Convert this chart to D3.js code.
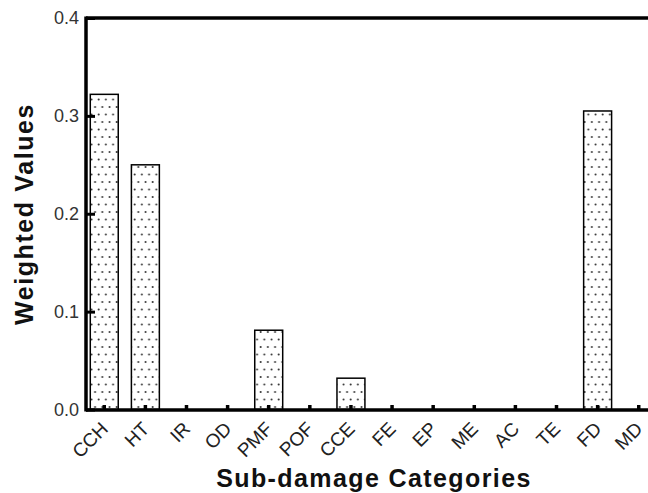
<!DOCTYPE html>
<html>
<head>
<meta charset="utf-8">
<script src="https://cdn.jsdelivr.net/npm/d3@7"></script>
<style>
  body { margin: 0; background: #fff; }
  svg { display: block; }
</style>
</head>
<body>
<svg id="chart"></svg>
<script>
// data
var categories = ["CCH", "HT", "IR", "OD", "PMF", "POF", "CCE", "FE", "EP", "ME", "AC", "TE", "FD", "MD"]
var weights = [0.322, 0.25, 0, 0, 0.081, 0, 0.032, 0, 0, 0, 0, 0, 0.305, 0]
var yTicks = [0.0, 0.1, 0.2, 0.3, 0.4]

var width = 648, height = 493
var plotLeft = 86, plotTop = 18, plotBottom = 410

var svg = d3.select("#chart")
    .attr("width", width)
    .attr("height", height)

// dotted fill for the bars
var defs = svg.append("defs")
var pat = defs.append("pattern")
    .attr("id", "dots")
    .attr("patternUnits", "userSpaceOnUse")
    .attr("width", 7.2)
    .attr("height", 15)
pat.append("rect").attr("width", 7.2).attr("height", 15).attr("fill", "#fff")
pat.append("circle").attr("cx", 1.5).attr("cy", 2).attr("r", 1).attr("fill", "#333")
pat.append("circle").attr("cx", 5.1).attr("cy", 9.5).attr("r", 1).attr("fill", "#333")

var x = d3.scaleBand()
    .domain(categories)
    .range([plotLeft + 1, 656])
    .paddingInner(0.32)
    .paddingOuter(0.08)

var y = d3.scaleLinear()
    .domain([0, 0.4])
    .range([plotBottom - 0.5, plotTop])

// bars
svg.selectAll("rect.bar")
    .data(categories)
  .enter()
    .append("rect")
    .attr("class", "bar")
    .attr("x", function(d) { return x(d) })
    .attr("width", x.bandwidth())
    .attr("y", function(d, i) { return y(weights[i]) })
    .attr("height", function(d, i) { return y(0) - y(weights[i]) })
    .attr("fill", "url(#dots)")
    .attr("stroke", "#000")
    .attr("stroke-width", 1.5)
    .style("display", function(d, i) { return weights[i] > 0 ? null : "none" })

// y axis
var yAxis = svg.append("g")
    .attr("transform", "translate(" + plotLeft + ",0)")
    .call(d3.axisRight(y).tickValues(yTicks).tickSize(9).tickFormat(d3.format(".1f")))
yAxis.select(".domain").remove()
yAxis.selectAll(".tick line").attr("stroke", "#000").attr("stroke-width", 3)
yAxis.selectAll(".tick text")
    .attr("x", -7)
    .attr("text-anchor", "end")
    .attr("fill", "#333")
    .style("font-family", "Liberation Sans, Arial, sans-serif")
    .style("font-size", "18px")

svg.append("line")
    .attr("x1", plotLeft).attr("x2", plotLeft)
    .attr("y1", plotTop - 1.5).attr("y2", plotBottom + 1.5)
    .attr("stroke", "#000").attr("stroke-width", 3.5)

// top frame line
svg.append("line")
    .attr("x1", plotLeft).attr("x2", width)
    .attr("y1", plotTop).attr("y2", plotTop)
    .attr("stroke", "#000").attr("stroke-width", 3.5)

// x axis
var xAxis = svg.append("g")
    .attr("transform", "translate(0," + plotBottom + ")")
    .call(d3.axisTop(x).tickSize(5).tickPadding(0))
xAxis.select(".domain").remove()
xAxis.selectAll(".tick line").attr("stroke", "#000").attr("stroke-width", 3.5)
xAxis.selectAll(".tick text")
    .attr("y", 0)
    .attr("dy", 0)
    .attr("text-anchor", "end")
    .attr("transform", "translate(5,20) rotate(-45)")
    .attr("fill", "#222")
    .style("font-family", "Liberation Sans, Arial, sans-serif")
    .style("font-size", "19px")

svg.append("line")
    .attr("x1", plotLeft).attr("x2", width)
    .attr("y1", plotBottom).attr("y2", plotBottom)
    .attr("stroke", "#000").attr("stroke-width", 3.5)

// axis titles
svg.append("text")
    .attr("x", 374)
    .attr("y", 487)
    .attr("text-anchor", "middle")
    .style("font-family", "Liberation Sans, Arial, sans-serif")
    .style("font-size", "25px")
    .style("font-weight", "bold")
    .style("letter-spacing", "1.4px")
    .attr("fill", "#111")
    .text("Sub-damage Categories")

svg.append("text")
    .attr("transform", "translate(33,214) rotate(-90)")
    .attr("text-anchor", "middle")
    .style("font-family", "Liberation Sans, Arial, sans-serif")
    .style("font-size", "25px")
    .style("font-weight", "bold")
    .style("letter-spacing", "1.6px")
    .attr("fill", "#111")
    .text("Weighted Values")
</script>
</body>
</html>
